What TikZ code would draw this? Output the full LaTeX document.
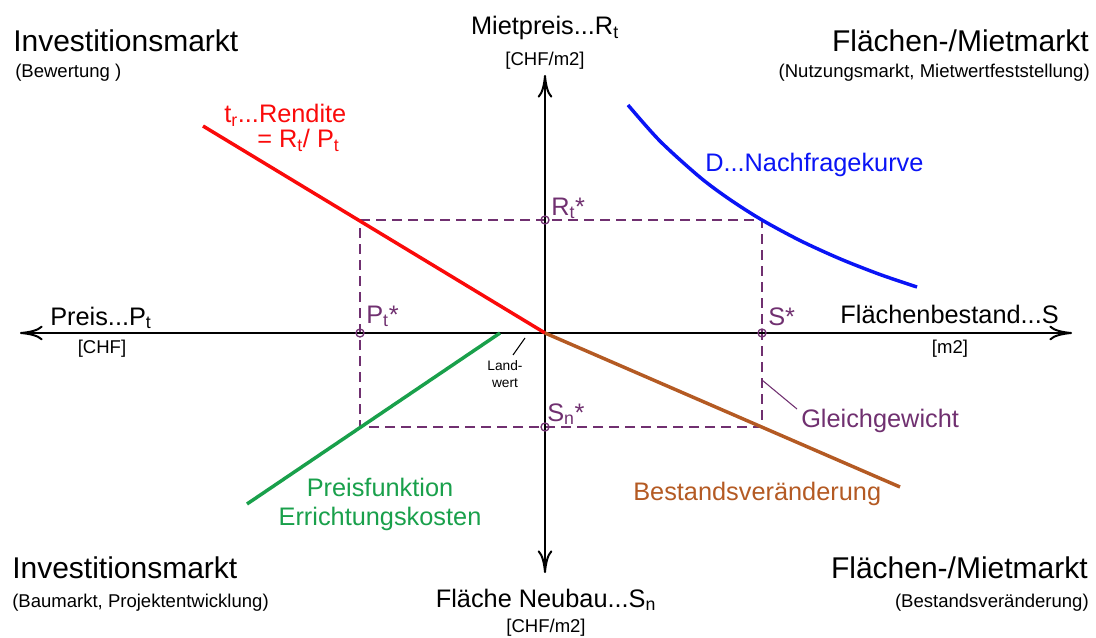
\documentclass[tikz,border=0pt]{standalone}
\usepackage{fontspec}
\setmainfont{Liberation Sans}
\usetikzlibrary{arrows.meta}
\definecolor{myred}{RGB}{250,10,10}
\definecolor{myblue}{RGB}{10,20,245}
\definecolor{mygreen}{RGB}{25,160,75}
\definecolor{mybrown}{RGB}{180,90,35}
\definecolor{mypurple}{RGB}{112,48,112}
\begin{document}
\begin{tikzpicture}[x=0.75pt,y=-0.75pt,
  big/.style={inner sep=0pt, font=\fontsize{22.5}{26}\selectfont},
  lbl/.style={inner sep=0pt, font=\fontsize{19}{22}\selectfont},
  small/.style={inner sep=0pt, font=\fontsize{13.9}{16}\selectfont},
  tiny/.style={inner sep=0pt, font=\fontsize{10.3}{12.5}\selectfont, align=center},
  axisline/.style={line width=1.5pt, {Computer Modern Rightarrow[length=17pt,width=11pt]}-{Computer Modern Rightarrow[length=17pt,width=11pt]}},
  curveline/.style={line width=2.6pt},
  guide/.style={mypurple, line width=1.4pt, dash pattern=on 7.5pt off 4.5pt},
  dot/.style={circle, draw=mypurple, line width=1pt, inner sep=0pt, minimum size=6pt},
  leader/.style={line width=0.8pt}
]
\useasboundingbox (0,0) rectangle (1096,638);

% coordinates
\coordinate (O) at (545,333);
\coordinate (xl) at (20,333);
\coordinate (xr) at (1072,333);
\coordinate (yt) at (545,75);
\coordinate (yb) at (545,573);
\coordinate (A) at (360,220);
\coordinate (B) at (762,220);
\coordinate (C) at (762,427);
\coordinate (D) at (360,427);

% dashed equilibrium rectangle
\draw[guide] (A) -- (B) -- (C) -- (D) -- cycle;

% axes
\draw[axisline] (xl) -- (xr);
\draw[axisline] (yb) -- (yt);

% curves
\coordinate (r1) at (203,126);
\draw[curveline, myred, line cap=butt] (r1) -- (O);
\coordinate (g1) at (247,504);
\coordinate (g2) at (500,333);
\draw[curveline, mygreen] (g1) -- (g2);
\coordinate (b2) at (900,487);
\draw[curveline, mybrown] (O) -- (b2);
\draw[curveline, myblue] plot[smooth] coordinates {(628,105) (660,141.1) (700,177.3) (730,199.6) (762,220) (800,240.5) (840,258.8) (880,274.5) (917,287)};

% marker circles
\node[dot] (Pt) at (360,333) {};
\node[dot] (Rt) at (545,220) {};
\node[dot] (Ss) at (762,333) {};
\node[dot] (Sn) at (545,427) {};

% star labels
\node[lbl, text=mypurple, anchor=base west] (Ptl) at (366,323) {P\textsubscript{t}*};
\node[lbl, text=mypurple, anchor=base west] (Rtl) at (551,215) {R\textsubscript{t}*};
\node[lbl, text=mypurple, anchor=base west] (Ssl) at (768,325) {S*};
\node[lbl, text=mypurple, anchor=base west] (Snl) at (547,421) {S\textsubscript{n}*};

% Gleichgewicht
\coordinate (gg1) at (762,380);
\coordinate (gg2) at (797,409);
\draw[leader, mypurple] (gg1) -- (gg2);
\node[lbl, text=mypurple, anchor=base west] (gl) at (801,427) {Gleichgewicht};

% Landwert
\coordinate (lw1) at (525,338);
\coordinate (lw2) at (513,355);
\draw[leader, black] (lw1) -- (lw2);
\node[tiny, anchor=base] (lw) at (505,387) {Land-\\wert};

% axis labels
\node[lbl, anchor=base] (ylab) at (545,35) {Mietpreis...R\textsubscript{t}};
\node[small, anchor=base] (yunit) at (545,66) {[CHF/m2]};
\node[lbl, anchor=base west] (xlab) at (50,325) {Preis...P\textsubscript{t}};
\node[small, anchor=base] (xunit) at (102,353) {[CHF]};
\node[lbl, anchor=base east] (xrlab) at (1059,323) {Flächenbestand...S};
\node[small, anchor=base] (xrunit) at (950,353) {[m2]};
\node[lbl, anchor=base] (yblab) at (546,607) {Fläche Neubau...S\textsubscript{n}};
\node[small, anchor=base] (ybunit) at (546,632) {[CHF/m2]};

% curve labels
\node[lbl, text=myred, anchor=base west] (ren1) at (224,123) {t\textsubscript{r}...Rendite};
\node[lbl, text=myred, anchor=base west] (ren2) at (257,148) {= R\textsubscript{t}/ P\textsubscript{t}};
\node[lbl, text=myblue, anchor=base west] (dlab) at (705,172) {D...Nachfragekurve};
\node[lbl, text=mybrown, anchor=base west] (blab) at (633,500) {Bestandsveränderung};
\node[lbl, text=mygreen, anchor=base] (pf1) at (380,496) {Preisfunktion};
\node[lbl, text=mygreen, anchor=base] (pf2) at (380,525) {Errichtungskosten};

% quadrant titles
\node[big, anchor=base west] (q1) at (13,52) {Investitionsmarkt};
\node[small, anchor=base west] (q1s) at (15,78) {(Bewertung )};
\node[big, anchor=base east] (q2) at (1089,52) {Flächen-/Mietmarkt};
\node[small, anchor=base east] (q2s) at (1090,78) {(Nutzungsmarkt, Mietwertfeststellung)};
\node[big, anchor=base west] (q3) at (12,578) {Investitionsmarkt};
\node[small, anchor=base west] (q3s) at (12,607) {(Baumarkt, Projektentwicklung)};
\node[big, anchor=base east] (q4) at (1088,578) {Flächen-/Mietmarkt};
\node[small, anchor=base east] (q4s) at (1089,607) {(Bestandsveränderung)};
\end{tikzpicture}
\end{document}
